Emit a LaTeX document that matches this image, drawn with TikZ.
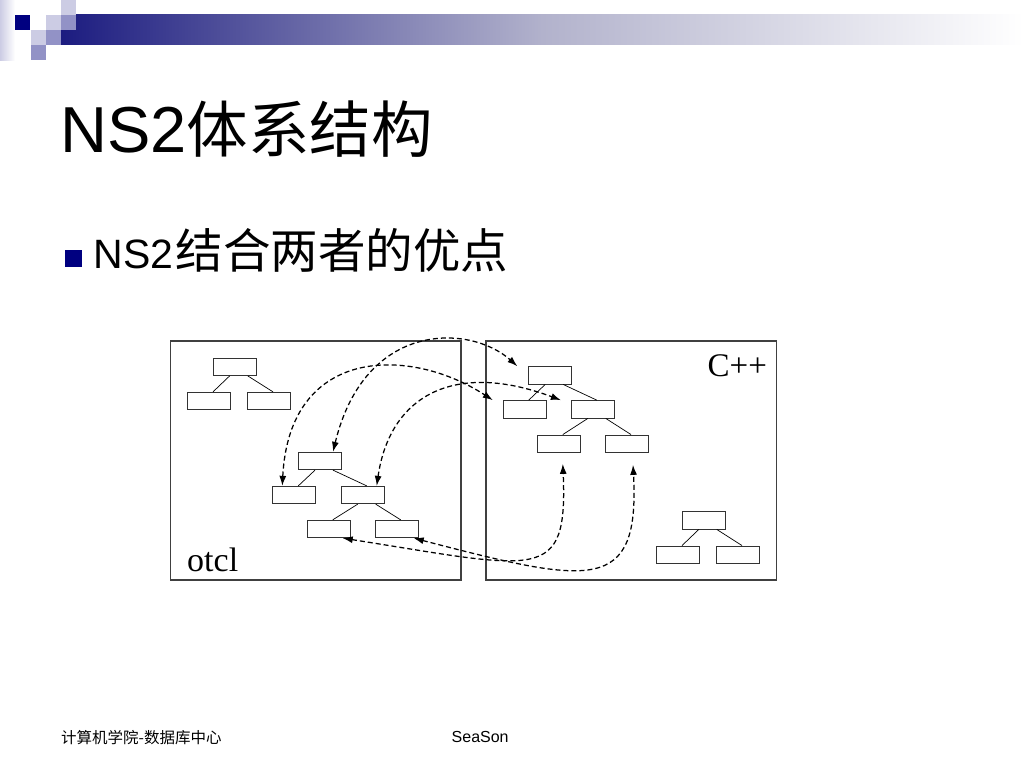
\documentclass[tikz,border=0pt]{standalone}
\usepackage{fontspec}
\setmainfont{Liberation Sans}
\newfontfamily\cjk{Noto Sans CJK SC}
\newfontfamily\tms{Liberation Serif}
\usetikzlibrary{arrows.meta}
\definecolor{navy}{RGB}{0,0,128}
\definecolor{barnavy}{RGB}{28,28,128}
\definecolor{barmid}{RGB}{178,178,204}
\definecolor{sqlight}{RGB}{204,204,228}
\definecolor{sqmid}{RGB}{146,146,198}
\definecolor{framegray}{RGB}{64,64,64}

\begin{document}
\begin{tikzpicture}[x=1pt, y=1pt, >=Latex,
  cls/.style={draw=black!80, line width=0.8pt, minimum width=43pt, minimum height=17.5pt, inner sep=0pt},
  tree/.style={black, line width=0.7pt},
  link/.style={{Latex[length=10pt,width=7pt]}-{Latex[length=10pt,width=7pt]}, dash pattern=on 5pt off 3pt, line width=1.25pt},
  frame/.style={draw=framegray, line width=1.1pt}]
  \useasboundingbox (0,0) rectangle (1024,-768);
  \fill[white] (0,0) rectangle (1024,-768);
  % header bar and squares (top left)
  \shade[left color=barnavy, right color=white, middle color=barmid] (61,-15) rectangle (1024,-45);
  \shade[left color=sqlight, right color=white] (0,0) rectangle (15,-60);
  \fill[navy] (15,-15) rectangle (30,-30);
  \foreach \x/\y in {46/15, 61/0, 31/30} {
    \fill[sqlight] (\x,-\y) rectangle ++(15,-15);
  }
  \foreach \x/\y in {61/15, 46/30, 31/45} {
    \fill[sqmid] (\x,-\y) rectangle ++(15,-15);
  }
  % title and bullet
  \node[anchor=base west, inner sep=0pt, font=\fontsize{65}{65}\selectfont] (title) at (60,-152)
    {NS2{\cjk\fontsize{61.5}{61.5}\selectfont 体系结构}};
  \fill[navy] (65,-250) rectangle (82,-267);
  \node[anchor=base west, inner sep=0pt, font=\fontsize{41}{41}\selectfont] (point) at (93.6,-268)
    {NS2{\cjk\fontsize{47.5}{47.5}\selectfont\hspace{2pt}结合两者的优点}};
  % the two frames
  \draw[frame] (170.5,-341) rectangle (461,-580);
  \draw[frame] (486,-341) rectangle (776.5,-580);
  \node[anchor=base west, inner sep=0pt, font=\tms\fontsize{34}{34}\selectfont] (otcl) at (187,-571) {otcl};
  \node[anchor=base west, inner sep=0pt, font=\tms\fontsize{33}{33}\selectfont] (cpp) at (707.5,-376.7) {C++};
  % class boxes: otcl side, then C++ side
  \foreach \n/\x/\y in {oa/234.7/366.7, oa1/209/401, oa2/269/401,
                        ob/320/461, obl/294.3/495, obr/362.7/495, obrl/328.7/529, obrr/396.7/529,
                        ca/550.2/375.3, cal/524.7/409.3, car/592.8/409.3, carl/558.8/443.7, carr/627/443.7,
                        cb/703.8/520.3, cb1/678/554.7, cb2/738/554.7} {
    \node[cls] (\n) at (\x,-\y) {};
  }
  \foreach \p/\l/\r in {oa/oa1/oa2, ob/obl/obr, obr/obrl/obrr, ca/cal/car, car/carl/carr, cb/cb1/cb2} {
    \draw[tree] ([xshift=-5pt]\p.south) -- ([xshift=4pt]\l.north);
    \draw[tree] ([xshift=13pt]\p.south) -- ([xshift=4pt]\r.north);
  }
  % dashed links between the two trees
  \draw[link] ([xshift=13pt]ob.north) .. controls +(32,132) and +(-47,42) .. ([xshift=-11pt]ca.north west);
  \draw[link] ([xshift=-12pt]obl.north) .. controls +(7,140) and +(-83,54) .. ([xshift=-10pt]cal.north west);
  \draw[link] ([xshift=14pt]obr.north) .. controls +(13,90) and +(-107,40) .. ([xshift=-10pt]car.north west);
  \draw[link] ([xshift=14pt]obrl.south) .. controls +(197,-31) and +(5,-120) .. ([xshift=4pt,yshift=-11pt]carl.south);
  \draw[link] ([xshift=17pt]obrr.south) .. controls +(177,-46) and +(7,-130) .. ([xshift=6pt,yshift=-12pt]carr.south);
  % footer
  \node[anchor=base west, inner sep=0pt, font=\cjk\fontsize{15.5}{15.5}\selectfont] (dept) at (61,-743) {计算机学院-数据库中心};
  \node[anchor=base west, inner sep=0pt, font=\fontsize{16}{16}\selectfont] (author) at (451.5,-742.3) {SeaSon};
\end{tikzpicture}
\end{document}
